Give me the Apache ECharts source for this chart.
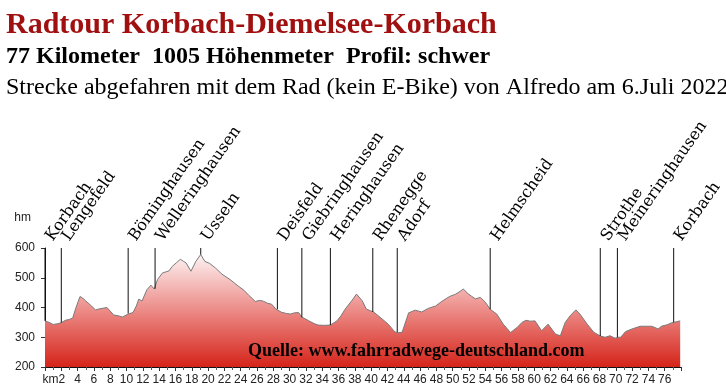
<!DOCTYPE html>
<html>
<head>
<meta charset="utf-8">
<script src="https://cdn.jsdelivr.net/npm/echarts@6/dist/echarts.min.js"></script>
<style>html,body{margin:0;padding:0;background:#fff}#c{width:726px;height:390px}</style>
</head>
<body>
<div id="c"></div>
<script>
// ---- data ----
const titleText = 'Radtour Korbach-Diemelsee-Korbach';
const subText1 = '77 Kilometer  1005 Höhenmeter  Profil: schwer';
const subText2 = 'Strecke abgefahren mit dem Rad (kein E-Bike) von Alfredo am 6.Juli 2022';
const sourceText = 'Quelle: www.fahrradwege-deutschland.com';

const profileKm = [0,0.5,1.0,1.5,2.0,2.5,3.0,3.4,3.8,4.3,4.7,5.0,5.5,6.2,6.6,7.0,7.6,8.0,8.4,9.0,9.5,10.2,10.8,11.2,11.5,11.9,12.5,13.0,13.4,13.8,14.4,15.2,15.6,16.1,16.6,17.0,17.3,17.9,18.5,19.1,19.6,20.2,20.9,21.7,22.7,23.7,24.4,25.0,25.8,26.3,26.8,27.3,27.8,28.3,29.0,29.6,30.1,30.6,31.1,31.5,32.3,33.0,33.5,34.3,35.0,35.8,36.3,36.8,37.6,38.2,38.9,39.4,39.9,40.3,41.1,42.1,42.9,43.3,43.8,44.6,45.4,46.2,47.0,47.9,48.7,49.2,49.7,50.3,50.9,51.3,51.9,52.3,52.8,53.4,54.0,54.6,55.4,56.2,57.1,57.9,58.5,59.0,59.5,60.1,60.9,61.7,62.6,63.2,63.8,64.4,65.1,65.6,66.5,67.3,68.1,68.7,69.3,69.9,70.3,70.6,71.2,72.0,73.0,74.4,75.2,75.6,76.3,76.8,77.9];
const profileElev = [355,350,343,345,349,357,360,365,400,437,430,422,410,392,395,397,400,388,375,372,368,378,383,405,428,422,460,475,462,494,516,523,538,550,562,555,550,522,555,578,555,548,533,512,494,472,458,441,420,424,421,414,411,395,384,380,378,382,383,368,356,346,341,340,341,355,372,394,422,445,423,395,389,385,367,344,318,315,317,382,391,385,397,405,421,430,438,444,454,462,446,438,429,434,418,394,378,344,316,333,350,357,354,355,322,344,311,305,350,372,392,378,344,317,304,300,305,297,300,300,319,328,337,337,328,337,342,348,355];

const placeNames = ['Korbach','Lengefeld','Böminghausen','Welleringhausen','Usseln','Deisfeld','Giebringhausen','Heringhausen','Rhenegge','Adorf','Helmscheid','Strothe','Meineringhausen','Korbach'];
const placeKm = [0,2.0,10.2,13.5,19.1,28.5,31.5,35.0,40.2,43.2,54.6,68.1,70.2,77.1];
const placeElev = [355,349,380,463,578,394,367,341,385,317,394,304,300,350];

const xMin = 0, xMax = 78, xStep = 2;
const yMin = 200, yMax = 600, yStep = 100;
const yName = 'hm';
const xUnit = 'km';

// ---- chart ----
const chart = echarts.init(document.getElementById('c'), null, {renderer: 'canvas'});
const profile = profileKm.map((k, i) => [k, profileElev[i]]);
const places = placeKm.map((k, i) => [k, placeElev[i]]);
const serif = '"Liberation Serif", "Times New Roman", serif';
const labelFont = '16px "DejaVu Serif", serif';
const rot = 55 * Math.PI / 180;

chart.setOption({
  animation: false,
  backgroundColor: '#fff',
  graphic: [
    {type: 'text', left: 6, top: 10, style: {text: titleText, font: 'bold 30px ' + serif, fill: '#a01010'}},
    {type: 'text', left: 6, top: 45, style: {text: subText1, font: 'bold 24px ' + serif, fill: '#000'}},
    {type: 'text', left: 6, top: 76, style: {text: subText2, font: '24px ' + serif, fill: '#000'}},
    {type: 'text', left: 248, top: 342, z: 100, style: {text: sourceText, font: 'bold 18px ' + serif, fill: '#000'}}
  ],
  grid: {left: 45, right: 45, top: 248, bottom: 23, containLabel: false},
  xAxis: {
    type: 'value', min: xMin, max: xMax, interval: xStep,
    axisLine: {show: true, lineStyle: {color: '#111', width: 1}},
    axisTick: {show: true, length: 4, lineStyle: {color: '#333'}},
    minorTick: {show: true, splitNumber: 2, length: 3, lineStyle: {color: '#555'}},
    splitLine: {show: false},
    axisLabel: {
      color: '#222', fontFamily: 'Liberation Sans, Arial, sans-serif', fontSize: 12, margin: 7,
      showMinLabel: true, showMaxLabel: true,
      formatter: function (v) {
        if (v === xMin) return '';
        if (v === xMax) return '';
        if (v === xMin + xStep) return '{k|' + xUnit + '}' + v + '{s| }';
        return String(v);
      },
      rich: {k: {fontSize: 12, fontFamily: 'Liberation Sans, Arial, sans-serif', color: '#222'}, s: {width: 15}}
    }
  },
  yAxis: {
    type: 'value', min: yMin, max: yMax, interval: yStep,
    name: yName, nameLocation: 'end', nameGap: 24,
    nameTextStyle: {color: '#222', fontFamily: 'Liberation Sans, Arial, sans-serif', fontSize: 12, align: 'right', padding: [0, 14, 0, 0]},
    axisLine: {show: true, lineStyle: {color: '#111', width: 1}},
    axisTick: {show: true, length: 4, lineStyle: {color: '#333'}},
    splitLine: {show: false},
    axisLabel: {color: '#222', fontFamily: 'Liberation Sans, Arial, sans-serif', fontSize: 12, margin: 10}
  },
  series: [
    {
      type: 'line', data: profile, showSymbol: false, symbol: 'none', smooth: false,
      lineStyle: {color: '#7a7a7a', width: 1},
      areaStyle: {
        opacity: 1,
        color: new echarts.graphic.LinearGradient(0, 0, 0, 1, [
          {offset: 0, color: '#fdf3f3'},
          {offset: 0.5, color: '#ec8a86'},
          {offset: 1, color: '#d5241a'}
        ])
      },
      z: 2
    },
    {
      type: 'custom', data: places, clip: false, z: 5,
      renderItem: function (params, api) {
        const k = api.value(0), e = api.value(1);
        const top = api.coord([k, yMax]);
        const bot = api.coord([k, e]);
        return {
          type: 'group',
          children: [
            {type: 'line', shape: {x1: top[0], y1: top[1], x2: bot[0], y2: bot[1]}, style: {stroke: '#111', lineWidth: 1}},
            {type: 'text', x: top[0] + 11, y: top[1] - 4, rotation: rot,
             style: {text: placeNames[params.dataIndex], font: labelFont, fill: '#000', align: 'left', verticalAlign: 'bottom'}}
          ]
        };
      }
    }
  ]
});
</script>
</body>
</html>
